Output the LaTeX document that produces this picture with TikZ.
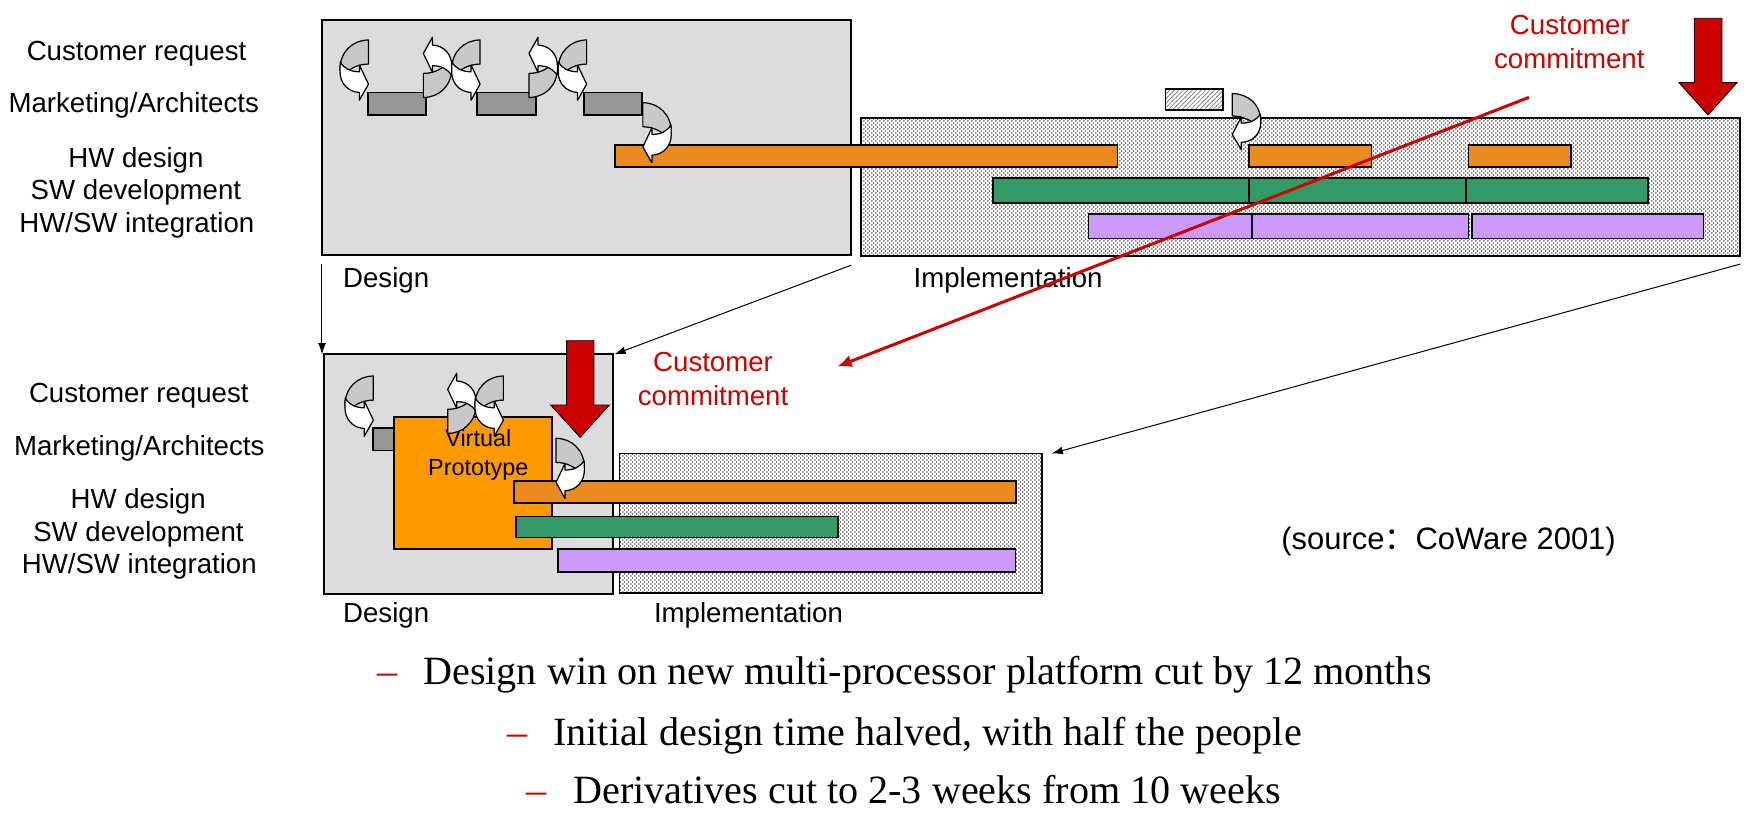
\documentclass[tikz,border=0pt]{standalone}
\usepackage{fontspec}
\setmainfont{Liberation Sans}
\newfontfamily\serifTNR{Liberation Serif}
\newfontfamily\cjkfont{Noto Sans CJK SC}
\usetikzlibrary{arrows.meta,patterns}
\definecolor{dgray}{HTML}{DCDCDC}
\definecolor{bargray}{HTML}{969696}
\definecolor{orng}{HTML}{EA8B1F}
\definecolor{grn}{HTML}{339966}
\definecolor{prpl}{HTML}{CC99FF}
\definecolor{vporange}{HTML}{FF9900}
\definecolor{redc}{HTML}{CC0000}
\definecolor{icongray}{HTML}{C8C8C8}
\pgfdeclarepatternformonly{mydots}{\pgfqpoint{0pt}{0pt}}{\pgfqpoint{3.8pt}{4pt}}{\pgfqpoint{3.8pt}{4pt}}{%
  \pgfpathcircle{\pgfqpoint{0.95pt}{1pt}}{0.72pt}%
  \pgfpathcircle{\pgfqpoint{2.85pt}{3pt}}{0.72pt}%
  \pgfusepath{fill}}
\pgfdeclarepatternformonly{myhatch}{\pgfqpoint{-0.5pt}{-0.5pt}}{\pgfqpoint{4.5pt}{4.5pt}}{\pgfqpoint{4pt}{4pt}}{%
  \pgfsetlinewidth{0.6pt}\pgfpathmoveto{\pgfqpoint{-0.5pt}{-0.5pt}}\pgfpathlineto{\pgfqpoint{4.5pt}{4.5pt}}\pgfusepath{stroke}}
\tikzset{
  curv/.pic={
    \begin{scope}[scale=0.3, line width=1.1pt, line join=round]
      \filldraw[fill=icongray] (85,0) -- (85,72) .. controls (55,72) and (22,86) .. (8,112) -- (0,88) .. controls (0,35) and (38,0) .. (85,0) -- cycle;
      \filldraw[fill=white] (1,66) .. controls (12,86) and (32,95) .. (58,95) -- (58,75) -- (85,132) -- (58,180) -- (58,157) .. controls (22,155) and (0,128) .. (0,95) .. controls (0,85) and (0,75) .. (1,66) -- cycle;
    \end{scope}
  }
}
\begin{document}
\begin{tikzpicture}[x=1pt,y=-1pt,
  every node/.style={inner sep=0pt, outer sep=0pt},
  rbox/.style={draw, line width=1.6pt, anchor=north west},
  dim/.style 2 args={minimum width=#1pt, minimum height=#2pt},
  dotted box/.style={rbox, preaction={fill=white}, pattern=mydots},
  lbl/.style={font=\fontsize{24.8pt}{29pt}\selectfont, anchor=base},
  lblw/.style={font=\fontsize{24.8pt}{29pt}\selectfont, anchor=base west},
  redtxt/.style={font=\fontsize{24.8pt}{29pt}\selectfont, anchor=base, text=redc},
  bullet/.style={font=\serifTNR\fontsize{36pt}{40pt}\selectfont, anchor=base west},
  dashmark/.style={font=\serifTNR\fontsize{36pt}{40pt}\selectfont, anchor=base west, text=redc},
  conn/.style={line width=0.9pt, -{Latex[length=10pt,width=7pt]}},
  redline/.style={draw=redc, line width=2.7pt, -{Latex[length=13pt,width=11pt]}},
  redarr/.style={fill=redc, draw=black, line width=0.8pt, line join=miter}
]
\useasboundingbox (0,0) rectangle (1568,731);

% ---------------- top diagram ----------------
\node[rbox, fill=dgray, dim={475}{211}] (D1) at (289,18) {};
\node[dotted box, dim={789}{124}] (I1) at (773,106) {};

\node[rbox, fill=bargray, dim={52}{20}] (g1) at (330,83) {};
\node[rbox, fill=bargray, dim={53}{20}] (g2) at (428,83) {};
\node[rbox, fill=bargray, dim={52}{20}] (g3) at (524,83) {};
\node[rbox, preaction={fill=white}, pattern=myhatch, pattern color=gray, dim={52}{19}] (h1) at (1046,80) {};

\node[rbox, fill=orng, dim={451}{20}] (o1) at (552,130) {};
\node[rbox, fill=orng, dim={110}{20}] (o2) at (1121,130) {};
\node[rbox, fill=orng, dim={92}{20}] (o3) at (1318,130) {};

\node[rbox, fill=grn, dim={230}{22}] (s1) at (891,160) {};
\node[rbox, fill=grn, dim={195}{22}] (s2) at (1121,160) {};
\node[rbox, fill=grn, dim={163}{22}] (s3) at (1316,160) {};

\node[rbox, fill=prpl, dim={146.5}{22}] (p1) at (977,192) {};
\node[rbox, fill=prpl, dim={194.5}{22}] (p2) at (1123.5,192) {};
\node[rbox, fill=prpl, dim={208}{22}] (p3) at (1321,192) {};

\pic at (305.2,35.9) {curv};
\pic[rotate=180] at (405.5,87.5) {curv};
\pic at (405.4,35.9) {curv};
\pic[rotate=180] at (500.3,87.5) {curv};
\pic at (501,35.9) {curv};
\pic[xscale=-1] at (602.5,92.2) {curv};
\pic[xscale=-1, yscale=0.93] at (1131.5,84) {curv};

\filldraw[redarr] (1520.6,16.4) -- (1545.4,16.4) -- (1545.4,74.2) -- (1559,74.2) -- (1533,103.2) -- (1507,74.2) -- (1520.6,74.2) -- cycle;

\node[lbl] (l1) at (122.6,54) {Customer request};
\node[lbl] (l2) at (120,101) {Marketing/Architects};
\node[lbl] (l3) at (122,150) {HW design};
\node[lbl] (l4) at (122,179) {SW development};
\node[lbl] (l5) at (122.8,209) {HW/SW integration};

\node[lblw] (dz1) at (308,258) {Design};
\node[lblw] (im1) at (820,258) {Implementation};

\node[redtxt] (cc1) at (1409,31.4) {Customer};
\node[redtxt] (cm1) at (1408.5,61.3) {commitment};

% ---------------- bottom diagram ----------------
\node[rbox, fill=dgray, dim={259}{215}] (D2) at (291,318) {};
\node[dotted box, dim={379}{125}] (I2) at (556,407) {};

\node[rbox, fill=bargray, dim={19}{20}] (g4) at (334.5,384.4) {};
\node[rbox, fill=vporange, dim={141.5}{118}] (VP) at (353.6,374.6) {};
\node[font=\fontsize{21pt}{25pt}\selectfont, anchor=base] (vp1) at (429.3,400.9) {Virtual};
\node[font=\fontsize{21pt}{25pt}\selectfont, anchor=base] (vp2) at (429.3,426.4) {Prototype};

\node[rbox, fill=orng, dim={451}{20}] (o4) at (461,431.5) {};
\node[rbox, fill=grn, dim={289}{19}] (s4) at (463,463.5) {};
\node[rbox, fill=prpl, dim={411}{21}] (p4) at (500.5,492.7) {};

\pic at (309.6,337.5) {curv};
\pic[rotate=180] at (427.3,389) {curv};
\pic at (426.3,337.5) {curv};
\pic[xscale=-1] at (524.5,393.4) {curv};

\filldraw[redarr] (508.6,305.8) -- (533.1,305.8) -- (533.1,363.5) -- (546.9,363.5) -- (520.7,392.5) -- (494.2,363.5) -- (508.6,363.5) -- cycle;

\node[lbl] (b1) at (124.6,361.4) {Customer request};
\node[lbl] (b2) at (125,408.4) {Marketing/Architects};
\node[lbl] (b3) at (124,456.2) {HW design};
\node[lbl] (b4) at (124.3,486.2) {SW development};
\node[lbl] (b5) at (125,514.6) {HW/SW integration};

\node[lblw] (dz2) at (308,559) {Design};
\node[lblw] (im2) at (587,559) {Implementation};

\node[redtxt] (cc2) at (640,333.6) {Customer};
\node[redtxt] (cm2) at (640,363.5) {commitment};

\node[font=\fontsize{27.8pt}{32pt}\selectfont, anchor=base west] (src) at (1150,493.6) {(source{\cjkfont ：}CoWare 2001)};

% ---------------- connectors ----------------
\draw[conn] ([yshift=-8pt]D1.south west) -- (D1.south west |- D2.north);
\draw[conn] ([yshift=-9pt]D1.south east) -- ([xshift=1.5pt]D2.north east);
\draw[conn] ([yshift=-7pt]I1.south east) -- ([xshift=9pt]I2.north east);

\coordinate (rs) at (1372.3,87.4);
\coordinate (re) at (751.5,329);
\draw[redline] (rs) -- (re);

% ---------------- bullet text ----------------
\node[dashmark] (d1) at (339,614.8) {–};
\node[bullet] (t1) at (380,614.8) {Design win on new multi-processor platform cut by 12 months};
\node[dashmark] (d2) at (455.6,668.7) {–};
\node[bullet] (t2) at (496.6,668.7) {Initial design time halved, with half the people};
\node[dashmark] (d3) at (472.7,721) {–};
\node[bullet] (t3) at (514.6,721) {Derivatives cut to 2-3 weeks from 10 weeks};
\end{tikzpicture}
\end{document}
